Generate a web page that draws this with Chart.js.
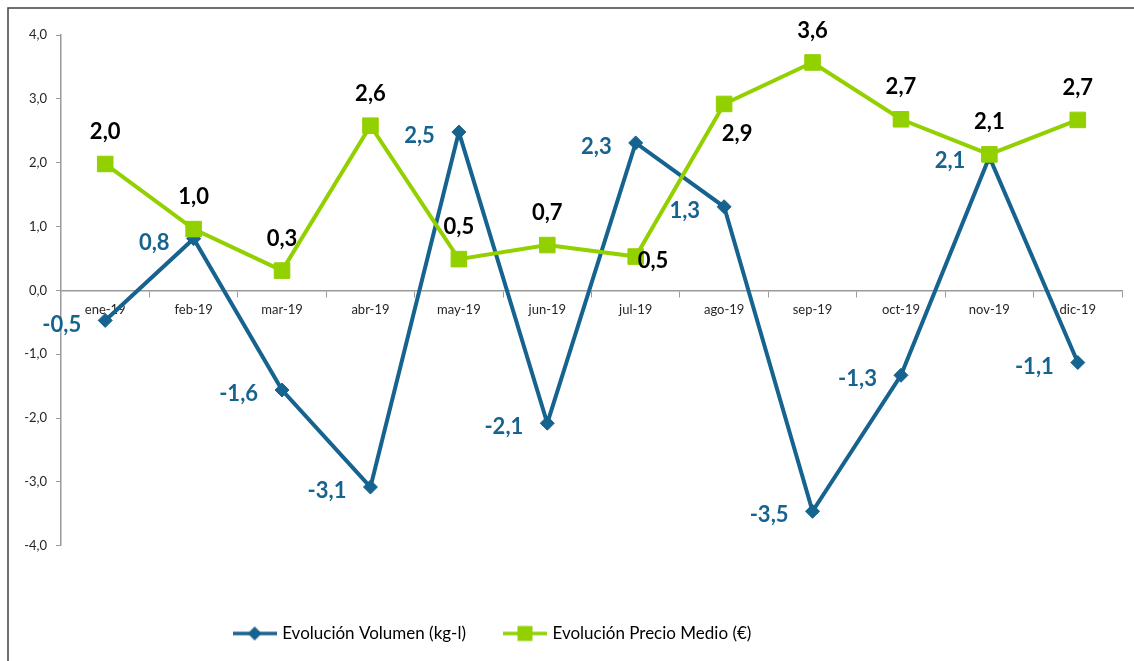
<!DOCTYPE html>
<html lang="es">
<head>
<meta charset="utf-8">
<title>Evolución Volumen y Precio Medio 2019</title>
<script src="https://cdn.jsdelivr.net/npm/chart.js@4.4.1/dist/chart.umd.min.js"></script>
<style>
    html, body { margin: 0; padding: 0; background: #fff; }
    #wrap { position: relative; width: 1134px; height: 661px; }
</style>
</head>
<body>
<div id="wrap"><canvas id="evolucionChart"></canvas></div>
<script>
/* datos */
const meses = ['ene-19', 'feb-19', 'mar-19', 'abr-19', 'may-19', 'jun-19', 'jul-19', 'ago-19', 'sep-19', 'oct-19', 'nov-19', 'dic-19'];
const volumen = [-0.47, 0.81, -1.56, -3.08, 2.48, -2.08, 2.31, 1.31, -3.46, -1.33, 2.09, -1.13];
const precio = [1.98, 0.96, 0.31, 2.58, 0.49, 0.71, 0.53, 2.92, 3.57, 2.68, 2.13, 2.67];
const ticksY = [-4, -3, -2, -1, 0, 1, 2, 3, 4];

// where each value label sits relative to its point
const posVolumen = Array(12).fill('left');
const posPrecio = ['above', 'above', 'above', 'above', 'above', 'above', 'right', 'below', 'above', 'above', 'above', 'above'];

const AZUL = '#17638F';
const VERDE = '#92D000';
const FUENTE = 'Lato';

const fmt = v => v.toFixed(1).replace('.', ',');

function icono(color, marca) {
    const c = document.createElement('canvas');
    c.width = 44; c.height = 18;
    const g = c.getContext('2d');
    g.strokeStyle = color; g.lineWidth = 3.5;
    g.beginPath(); g.moveTo(0, 9); g.lineTo(44, 9); g.stroke();
    g.fillStyle = color;
    if (marca === 'rombo') {
        g.beginPath(); g.moveTo(22, 2); g.lineTo(29, 9); g.lineTo(22, 16); g.lineTo(15, 9); g.closePath(); g.fill();
    } else {
        g.fillRect(14.5, 1.5, 15, 15);
    }
    return c;
}
const iconos = [icono(AZUL, 'rombo'), icono(VERDE, 'cuadro')];

const colocar = {
    left:  { align: 'right',  dx: -24, dy: 4 },
    above: { align: 'center', dx: 0,   dy: -32 },
    right: { align: 'left',   dx: 2,   dy: 4 },
    below: { align: 'center', dx: 13,  dy: 30 }
};

const etiquetas = {
    id: 'etiquetas',
    afterDatasetsDraw(chart) {
        const ctx = chart.ctx;
        ctx.save();
        ctx.font = 'bold 22px ' + FUENTE;
        ctx.textBaseline = 'middle';
        chart.data.datasets.forEach((ds, i) => {
            const meta = chart.getDatasetMeta(i);
            meta.data.forEach((pt, j) => {
                const p = colocar[ds.posEtiqueta[j]];
                ctx.fillStyle = ds.colorEtiqueta;
                ctx.textAlign = p.align;
                ctx.fillText(fmt(ds.data[j]), pt.x + p.dx, pt.y + p.dy);
            });
        });
        ctx.restore();
    }
};

const marco = {
    id: 'marco',
    beforeDraw(chart) {
        const ctx = chart.ctx;
        ctx.save();
        ctx.strokeStyle = '#404040';
        ctx.lineWidth = 1.5;
        ctx.beginPath();
        ctx.moveTo(8, chart.height);
        ctx.lineTo(8, 8);
        ctx.lineTo(chart.width, 8);
        ctx.stroke();
        ctx.restore();
    },
    afterLayout(chart) {
        // legend sits left of centre in the original
        if (chart.legend) chart.legend.right -= 136;
    }
};

const ctx = document.getElementById('evolucionChart');
new Chart(ctx, {
    type: 'line',
    data: {
        labels: meses,
        datasets: [
            {
                label: 'Evolución Volumen (kg-l)',
                data: volumen,
                borderColor: AZUL, backgroundColor: AZUL,
                borderWidth: 4, pointStyle: 'rectRot', pointRadius: 7, pointBorderWidth: 1,
                tension: 0, order: 1,
                posEtiqueta: posVolumen, colorEtiqueta: AZUL
            },
            {
                label: 'Evolución Precio Medio (€)',
                data: precio,
                borderColor: VERDE, backgroundColor: VERDE,
                borderWidth: 4, pointStyle: 'rect', pointRadius: 11, pointBorderWidth: 1,
                tension: 0, order: 0,
                posEtiqueta: posPrecio, colorEtiqueta: '#000'
            }
        ]
    },
    options: {
        responsive: true, maintainAspectRatio: false, animation: false,
        layout: { padding: { top: 35, right: 11, bottom: 9, left: 0 } },
        plugins: {
            tooltip: { enabled: false },
            legend: {
                position: 'bottom',
                title: { display: true, text: ' ', font: { size: 1 }, padding: { top: 0, bottom: 38 } },
                labels: {
                    usePointStyle: true, pointStyleWidth: 38, padding: 40,
                    color: '#000', font: { family: FUENTE, size: 17 },
                    sort: (a, b) => a.datasetIndex - b.datasetIndex,
                    generateLabels(chart) {
                        const items = Chart.defaults.plugins.legend.labels.generateLabels(chart);
                        items.forEach(it => { it.pointStyle = iconos[it.datasetIndex]; });
                        return items;
                    }
                }
            }
        },
        scales: {
            x: {
                position: { y: 0 },
                offset: true,
                grid: { offset: true, drawOnChartArea: false, tickLength: 6, color: '#9a9a9a' },
                border: { color: '#9a9a9a', width: 1.5 },
                ticks: { color: '#262626', font: { family: FUENTE, size: 13 }, padding: 6, maxRotation: 0, autoSkip: false }
            },
            y: {
                min: ticksY[0], max: ticksY[ticksY.length - 1],
                afterBuildTicks: s => { s.ticks = ticksY.map(v => ({ value: v })); },
                afterFit: s => { s.width = 61; },
                grid: { drawOnChartArea: false, tickLength: 5, color: '#9a9a9a' },
                border: { color: '#9a9a9a', width: 1.5 },
                ticks: { color: '#262626', font: { family: FUENTE, size: 13 }, padding: 9, callback: v => fmt(v) }
            }
        }
    },
    plugins: [etiquetas, marco]
});
</script>
</body>
</html>
